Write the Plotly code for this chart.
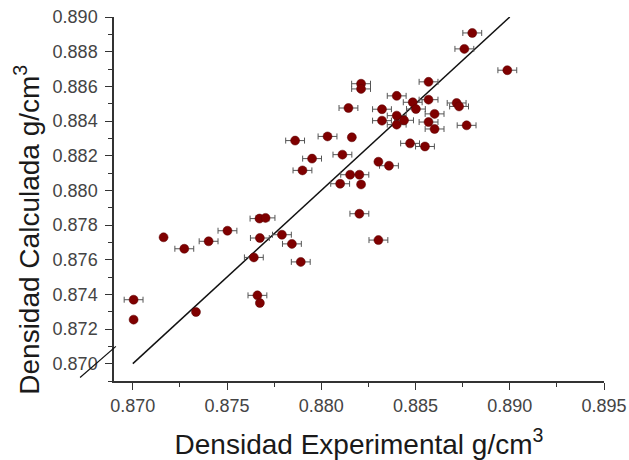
import plotly.graph_objects as go

# Experimental density (g/cm3)
dens_exp = [0.87004, 0.87004, 0.87163, 0.87273, 0.87402, 0.87502, 0.87335, 0.87642, 0.87661, 0.87674,
            0.87674, 0.87672, 0.87704, 0.87791, 0.87844, 0.87891, 0.87861, 0.87951, 0.87900, 0.88112,
            0.88033, 0.88162, 0.88144, 0.88211, 0.88211, 0.88303, 0.88359, 0.88153, 0.88202, 0.88100,
            0.88211, 0.88202, 0.88303, 0.88322, 0.88322, 0.88400, 0.88400, 0.88400, 0.88439, 0.88485,
            0.88502, 0.88471, 0.88550, 0.88569, 0.88569, 0.88569, 0.88601, 0.88601, 0.88718, 0.88731,
            0.88771, 0.88759, 0.88801, 0.88987]
# Calculated density (g/cm3)
dens_calc = [0.87369, 0.87254, 0.87729, 0.87663, 0.87706, 0.87767, 0.87298, 0.87613, 0.87394, 0.87350,
             0.87725, 0.87837, 0.87841, 0.87744, 0.87691, 0.87587, 0.88287, 0.88183, 0.88115, 0.88206,
             0.88311, 0.88306, 0.88475, 0.88615, 0.88585, 0.88165, 0.88142, 0.88090, 0.88090, 0.88038,
             0.88034, 0.87865, 0.87713, 0.88468, 0.88402, 0.88545, 0.88431, 0.88379, 0.88404, 0.88508,
             0.88469, 0.88271, 0.88253, 0.88626, 0.88523, 0.88394, 0.88441, 0.88354, 0.88504, 0.88484,
             0.88375, 0.88816, 0.88908, 0.88693]
# Horizontal uncertainty of the experimental density
err_exp = [0.0005, 0.0, 0.0, 0.0005, 0.0005, 0.0005, 0.0, 0.0005, 0.0005, 0.0,
           0.0005, 0.0005, 0.0005, 0.0005, 0.0005, 0.0005, 0.0005, 0.0005, 0.0005, 0.0005,
           0.0005, 0.0, 0.0005, 0.0005, 0.0005, 0.0, 0.0005, 0.0005, 0.0005, 0.0005,
           0.0, 0.0005, 0.0005, 0.0005, 0.0005, 0.0005, 0.0005, 0.0005, 0.0005, 0.0005,
           0.0005, 0.0005, 0.0005, 0.0005, 0.0005, 0.0005, 0.0005, 0.0005, 0.0005, 0.0005,
           0.0005, 0.0005, 0.0005, 0.0005]

# Ideal line y = x
fit_x = [0.870, 0.890]
fit_y = [0.870, 0.890]

# Stray line fragment left of the y axis (data units)
stray_x = [0.8672, 0.8691]
stray_y = [0.8692, 0.8710]

x_range = [0.869, 0.895]
y_range = [0.869, 0.890]

x_ticks = [0.870, 0.875, 0.880, 0.885, 0.890, 0.895]
y_ticks = [0.870, 0.872, 0.874, 0.876, 0.878, 0.880, 0.882, 0.884, 0.886, 0.888, 0.890]

x_title = "Densidad Experimental g/cm<sup>3</sup>"
y_title = "Densidad Calculada g/cm<sup>3</sup>"

FONT = "Arial, Liberation Sans, sans-serif"

fig = go.Figure()

fig.add_trace(go.Scatter(
    x=fit_x, y=fit_y, mode="lines",
    line=dict(color="#111111", width=1.5),
    hoverinfo="skip",
))

fig.add_trace(go.Scatter(
    x=dens_exp, y=dens_calc, mode="markers",
    marker=dict(color="#7f0000", size=9, line=dict(width=0.5, color="#5a0000")),
    error_x=dict(type="data", array=err_exp, visible=True,
                 color="#555555", thickness=1, width=3),
))


def to_paper(v, rng):
    return (v - rng[0]) / (rng[1] - rng[0])


fig.add_shape(
    type="line", xref="paper", yref="paper",
    x0=to_paper(stray_x[0], x_range), y0=to_paper(stray_y[0], y_range),
    x1=to_paper(stray_x[1], x_range), y1=to_paper(stray_y[1], y_range),
    line=dict(color="#111111", width=1.2),
)

axis_common = dict(
    showline=True, linecolor="#333333", linewidth=1.5,
    ticks="outside", ticklen=7, tickwidth=1.3, tickcolor="#333333",
    showgrid=False, zeroline=False, mirror=False, automargin=False,
    tickfont=dict(family=FONT, size=18, color="#444444"),
)

fig.update_xaxes(
    range=x_range, tickvals=x_ticks, tickformat=".3f", ticklabelstandoff=1,
    minor=dict(ticks="outside", ticklen=4, tickwidth=1.2, tickcolor="#333333", dtick=0.0025, tick0=0.870),
    title=dict(text=x_title, font=dict(family=FONT, size=28, color="#1a1a1a"), standoff=22),
    **axis_common,
)
fig.update_yaxes(
    range=y_range, tickvals=y_ticks, tickformat=".3f", ticklabelstandoff=4,
    minor=dict(ticks="outside", ticklen=4, tickwidth=1.2, tickcolor="#333333", dtick=0.001, tick0=0.869),
    **axis_common,
)

# y title placed as rotated annotation (shifted below the plot centre as in the reference)
fig.add_annotation(
    text=y_title, textangle=-90, showarrow=False,
    xref="paper", yref="paper", x=-0.178, y=0.415,
    xanchor="center", yanchor="middle",
    font=dict(family=FONT, size=28, color="#1a1a1a"),
)

fig.update_layout(
    width=629, height=460,
    margin=dict(l=114, r=25, t=17, b=79, autoexpand=False),
    paper_bgcolor="white", plot_bgcolor="white",
    showlegend=False,
    font=dict(family=FONT),
)

fig.write_html("out.html")
